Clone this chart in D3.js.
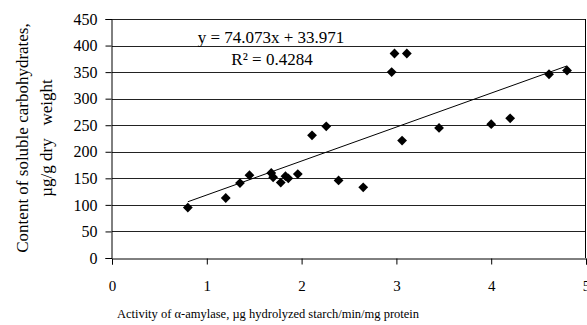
<!DOCTYPE html>
<html>
<head>
<meta charset="utf-8">
<script src="https://cdn.jsdelivr.net/npm/d3@7"></script>
<style>
  body { margin: 0; background: #fff; }
  svg text { font-family: "Liberation Serif", "Times New Roman", serif; fill: #000; }
</style>
</head>
<body>
<div id="chart"></div>
<script>
// activity of alpha-amylase vs soluble carbohydrates
const activity = [0.80, 1.20, 1.35, 1.45, 1.68, 1.70, 1.78, 1.83, 1.86, 1.96, 2.11, 2.26,
    2.39, 2.65, 2.95, 2.98, 3.11, 3.06, 3.45, 4.00, 4.20, 4.61, 4.80];
const carbs = [95, 113, 141, 156, 160, 152, 142, 154, 150, 158, 231, 248,
    146, 133, 350, 385, 385, 221, 245, 252, 263, 346, 353];
const xTicks = [0, 1, 2, 3, 4, 5];
const yTicks = [0, 50, 100, 150, 200, 250, 300, 350, 400, 450];
const equation = 'y = 74.073x + 33.971';
const rSquared = 'R² = 0.4284';

const width = 587;
const height = 325;
const margin = { top: 19, left: 112, right: 1, bottom: 67 };
const serif = '"Liberation Serif", "Times New Roman", serif';

const svg = d3.select('#chart')
    .append('svg')
    .attr('width', width)
    .attr('height', height);

const x = d3.scaleLinear()
    .domain([0, 5])
    .range([margin.left, width - margin.right]);

const y = d3.scaleLinear()
    .domain([0, 450])
    .range([height - margin.bottom, margin.top]);

// gridlines
svg.append('g')
    .selectAll('line')
    .data(yTicks.filter(d => d > 0))
    .enter()
    .append('line')
    .attr('x1', x(0))
    .attr('x2', x(5))
    .attr('y1', d => Math.round(y(d)) + 0.5)
    .attr('y2', d => Math.round(y(d)) + 0.5)
    .attr('stroke', '#222')
    .attr('stroke-width', 1);

// right border of plot area
svg.append('line')
    .attr('x1', Math.round(x(5)) - 0.5)
    .attr('x2', Math.round(x(5)) - 0.5)
    .attr('y1', y(450))
    .attr('y2', y(0))
    .attr('stroke', '#000');

// axes
const yAxis = svg.append('g')
    .attr('transform', `translate(${Math.round(x(0)) - 0.5},0)`)
    .call(d3.axisLeft(y).tickValues(yTicks).tickSize(6).tickPadding(8))
    .attr('font-family', serif)
    .attr('font-size', 16);
yAxis.select('.domain').attr('stroke', '#000');

const xAxis = svg.append('g')
    .attr('transform', `translate(0,${Math.round(y(0)) + 0.5})`)
    .call(d3.axisBottom(x).tickValues(xTicks).tickSize(6).tickPadding(16).tickFormat(d3.format('d')))
    .attr('font-family', serif)
    .attr('font-size', 15);
xAxis.select('.domain').attr('stroke', '#000');

// regression line from the data
const mx = d3.mean(activity);
const my = d3.mean(carbs);
const slope = d3.sum(activity, (a, i) => (a - mx) * (carbs[i] - my)) /
    d3.sum(activity, a => (a - mx) * (a - mx));
const intercept = my - slope * mx;
const xs = d3.extent(activity);

svg.append('line')
    .attr('x1', x(xs[0]))
    .attr('x2', x(xs[1]))
    .attr('y1', y(slope * xs[0] + intercept))
    .attr('y2', y(slope * xs[1] + intercept))
    .attr('stroke', '#000')
    .attr('stroke-width', 1);

// points
svg.append('g')
    .selectAll('path')
    .data(activity)
    .enter()
    .append('path')
    .attr('d', d3.symbol(d3.symbolSquare, 48))
    .attr('transform', (d, i) => `translate(${x(d)},${y(carbs[i])}) rotate(45)`)
    .attr('fill', '#000');

// equation
svg.append('text')
    .attr('x', 271)
    .attr('y', 43)
    .attr('text-anchor', 'middle')
    .style('font-size', '17px')
    .text(equation);

svg.append('text')
    .attr('x', 272)
    .attr('y', 65)
    .attr('text-anchor', 'middle')
    .style('font-size', '17px')
    .text(rSquared);

// axis titles
svg.append('text')
    .attr('x', 268)
    .attr('y', 318)
    .attr('text-anchor', 'middle')
    .style('font-size', '12.5px')
    .text('Activity of α-amylase, µg hydrolyzed starch/min/mg protein');

const yTitle = svg.append('text')
    .attr('transform', 'translate(28,138) rotate(-90)')
    .attr('text-anchor', 'middle')
    .style('font-size', '17px');
yTitle.append('tspan')
    .attr('x', 0)
    .attr('dy', 0)
    .text('Content of soluble carbohydrates,');
yTitle.append('tspan')
    .attr('x', 0)
    .attr('dy', 24)
    .attr('xml:space', 'preserve')
    .style('white-space', 'pre')
    .text('µg/g dry   weight');
</script>
</body>
</html>
